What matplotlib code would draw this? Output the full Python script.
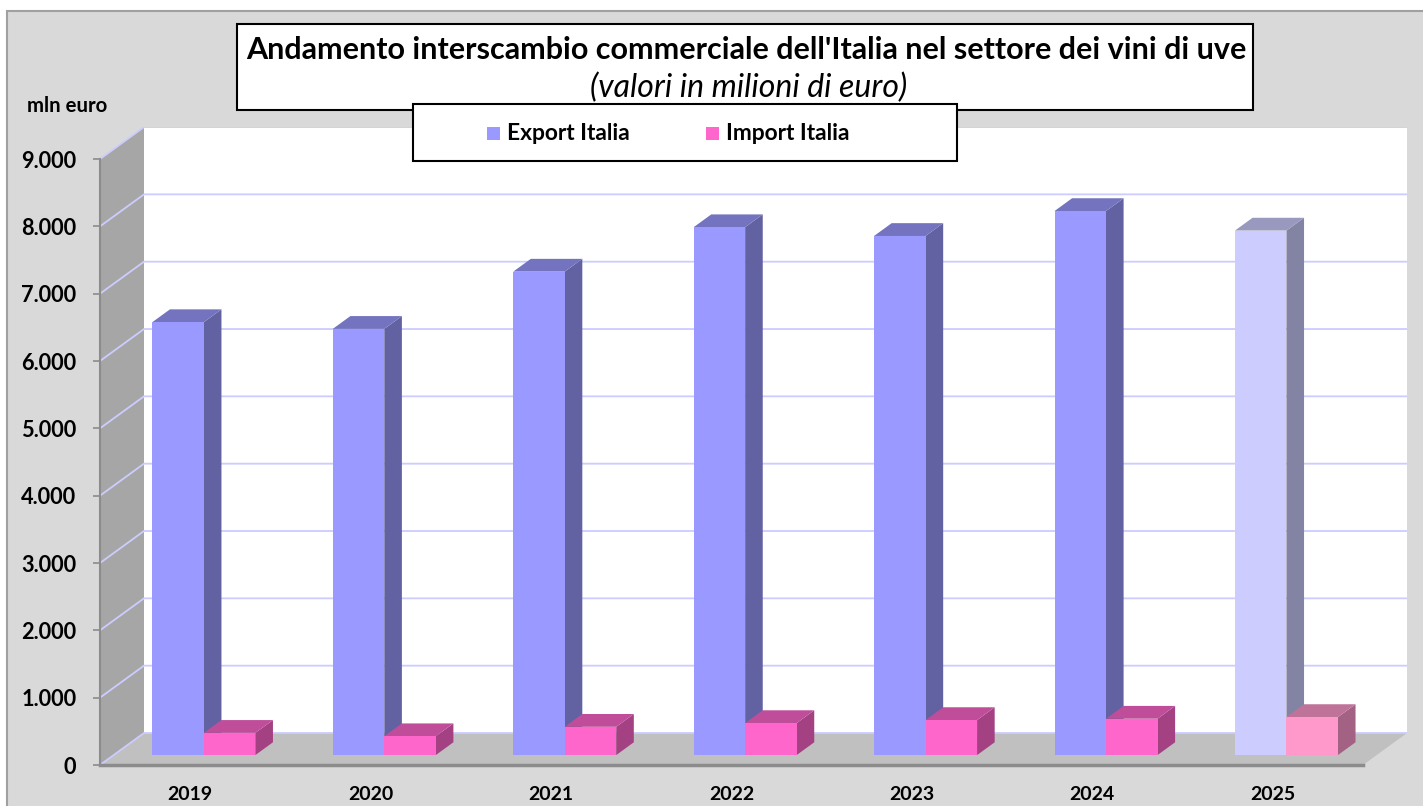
import matplotlib
matplotlib.use("Agg")
import matplotlib.pyplot as plt
from matplotlib.patches import Polygon, Rectangle
import numpy as np

# dati (milioni di euro)
anni = ["2019", "2020", "2021", "2022", "2023", "2024", "2025"]
export_italia = [6430, 6330, 7180, 7840, 7710, 8080, 7790]
import_italia = [330, 280, 420, 475, 520, 540, 565]
yticks = [0, 1000, 2000, 3000, 4000, 5000, 6000, 7000, 8000, 9000]
ytick_labels = ["0", "1.000", "2.000", "3.000", "4.000", "5.000", "6.000", "7.000", "8.000", "9.000"]

titolo = "Andamento interscambio commerciale dell'Italia nel settore dei vini di uve"
sottotitolo = "(valori in milioni di euro)"

plt.rcParams["font.family"] = ["Lato", "DejaVu Sans"]

W, H = 1423, 806
fig = plt.figure(figsize=(W / 100, H / 100), dpi=100)
fig.patch.set_facecolor("white")


def fx(x):
    return x / W


def fy(y):
    return 1 - y / H


# sfondo grigio dell'area grafico
fig.add_artist(Rectangle((fx(7), fy(830)), fx(1430), (830 - 11) / H,
                         transform=fig.transFigure, facecolor="#d9d9d9",
                         edgecolor="#a0a0a0", lw=1.5, zorder=0))

# geometria 3D (profondita' obliqua)
n = len(anni)
px_cat = 180.43      # pixel per categoria
px_val = 0.06733     # pixel per unita'
DX = 44 / px_cat
DV = 32 / px_val
ymax = 9000

left_px, bottom_px = 100, 765
ax = fig.add_axes([fx(left_px), fy(bottom_px),
                   (n + DX) * px_cat / W, (ymax + DV) * px_val / H])
ax.set_xlim(0, n + DX)
ax.set_ylim(0, ymax + DV)
ax.patch.set_alpha(0)
for s in ax.spines.values():
    s.set_visible(False)

# pareti
ax.add_patch(Polygon([(DX, DV), (n + DX, DV), (n + DX, ymax + DV), (DX, ymax + DV)],
                     closed=True, facecolor="white", edgecolor="none", zorder=1))
ax.add_patch(Polygon([(0, 0), (n, 0), (n + DX, DV), (DX, DV)],
                     closed=True, facecolor="#c0c0c0", edgecolor="none", zorder=1))
ax.add_patch(Polygon([(0, 0), (DX, DV), (DX, ymax + DV), (0, ymax)],
                     closed=True, facecolor="#a6a6a6", edgecolor="none", zorder=1))

# griglia
for v in yticks:
    ax.plot([0, DX, n + DX], [v, v + DV, v + DV], color="#ccccff", lw=1.3, zorder=2,
            solid_capstyle="butt")

# assi
ax.plot([0, 0], [0, ymax], color="#8c8c8c", lw=1.5, zorder=3, clip_on=False)
ax.plot([0, n], [0, 0], color="#8c8c8c", lw=2.5, zorder=3, clip_on=False)

ax.set_yticks(yticks)
ax.set_yticklabels(ytick_labels, fontsize=15.7, fontweight="bold")
ax.tick_params(axis="y", length=5, color="#8c8c8c", width=1.2, pad=12)
ax.set_xticks(np.arange(n) + 0.5)
ax.set_xticklabels(anni, fontsize=14, fontweight="bold")
ax.tick_params(axis="x", length=0, pad=15)


def shade(c, k):
    r, g, b = matplotlib.colors.to_rgb(c)
    return (r * k, g * k, b * k)


def barra(xc0, larg, val, colore, z):
    f0, f1 = 0.31, 0.71
    x0 = xc0 + f0 * DX
    x1 = x0 + larg
    y0 = f0 * DV
    ddx = (f1 - f0) * DX
    ddv = (f1 - f0) * DV
    front = [(x0, y0), (x1, y0), (x1, y0 + val), (x0, y0 + val)]
    side = [(x1, y0), (x1 + ddx, y0 + ddv), (x1 + ddx, y0 + ddv + val), (x1, y0 + val)]
    top = [(x0, y0 + val), (x1, y0 + val), (x1 + ddx, y0 + val + ddv), (x0 + ddx, y0 + val + ddv)]
    ax.add_patch(Polygon(side, closed=True, facecolor=shade(colore, 0.64), edgecolor="none", zorder=z))
    ax.add_patch(Polygon(top, closed=True, facecolor=shade(colore, 0.75), edgecolor="none", zorder=z))
    ax.add_patch(Polygon(front, closed=True, facecolor=colore, edgecolor="none", zorder=z))


larg = 51.5 / px_cat
col_exp = ["#9999ff"] * (n - 1) + ["#ccccff"]
col_imp = ["#ff66cc"] * (n - 1) + ["#ff99cc"]
for i in range(n):
    xc = i + 0.5
    barra(xc - larg, larg, export_italia[i], col_exp[i], 4 + 2 * i)
    barra(xc, larg, import_italia[i], col_imp[i], 5 + 2 * i)

# titolo
fig.add_artist(Rectangle((fx(237), fy(110)), (1253 - 237) / W, (110 - 24) / H,
                         transform=fig.transFigure, facecolor="white",
                         edgecolor="black", lw=1.5, zorder=10))
fig.text(fx(746), fy(50), titolo, ha="center", va="center", fontsize=22,
         fontweight="bold", zorder=11)
fig.text(fx(749), fy(88), sottotitolo, ha="center", va="center", fontsize=23,
         style="italic", zorder=11)

# legenda
fig.add_artist(Rectangle((fx(413), fy(161)), (957 - 413) / W, (161 - 104) / H,
                         transform=fig.transFigure, facecolor="white",
                         edgecolor="black", lw=1.5, zorder=12))
for xm, c, lab in [(487, "#9999ff", "Export Italia"), (706, "#ff66cc", "Import Italia")]:
    fig.add_artist(Rectangle((fx(xm), fy(140)), 13 / W, 13 / H, transform=fig.transFigure,
                             facecolor=c, edgecolor="none", zorder=13))
    fig.text(fx(xm + 20), fy(133), lab, ha="left", va="center", fontsize=16.4,
             fontweight="bold", zorder=13)

fig.text(fx(27), fy(106), "mln euro", ha="left", va="center", fontsize=14.7,
         fontweight="bold")

fig.savefig("out.png", dpi=100, facecolor=fig.get_facecolor())
